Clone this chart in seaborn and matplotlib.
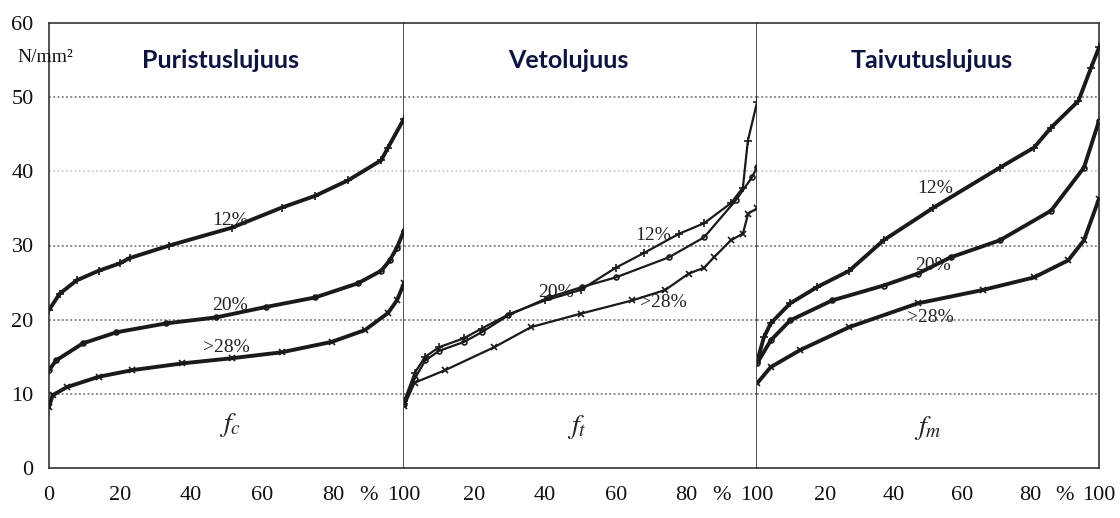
import matplotlib
matplotlib.use("Agg")
import matplotlib.pyplot as plt
import seaborn as sns
import numpy as np

# ---------------- data ----------------
panel_titles = ["Puristuslujuus", "Vetolujuus", "Taivutuslujuus"]
panel_symbols = ["$f_c$", "$f_t$", "$f_m$"]
series_names = ["12%", "20%", ">28%"]

# Panel 1: compressive strength
p1_12_x = [0, 3, 7.8, 14, 20, 22.7, 33.9, 51.5, 65.5, 75, 84.3, 93.6, 95.5, 100]
p1_12_y = [21.3, 23.5, 25.3, 26.6, 27.6, 28.3, 30.0, 32.4, 35.1, 36.7, 38.8, 41.5, 43.2, 47.1]
p1_20_x = [0, 2, 9.5, 19, 33, 47, 61, 75, 87, 93.6, 96, 98, 100]
p1_20_y = [13.2, 14.5, 16.8, 18.3, 19.5, 20.3, 21.7, 23.0, 24.9, 26.6, 28.0, 29.7, 32.0]
p1_28_x = [0, 1, 5, 14, 23.5, 37.5, 51.5, 65.5, 79.6, 89, 95.5, 98, 100]
p1_28_y = [8.2, 9.8, 10.9, 12.3, 13.2, 14.1, 14.8, 15.6, 17.0, 18.6, 20.9, 22.6, 24.9]

# Panel 2: tensile strength
p2_12_x = [0, 3, 6, 10, 17, 22, 30, 40, 50, 60, 68, 78, 85, 92.6, 96, 97.4, 100]
p2_12_y = [9.0, 12.8, 15.0, 16.3, 17.5, 18.8, 20.8, 22.6, 24.0, 27.0, 29.0, 31.6, 33.0, 35.7, 37.8, 44.1, 49.3]
p2_20_x = [0, 3, 6, 10, 17, 22, 29.6, 41, 50.4, 60, 75, 85, 94, 98.6, 100]
p2_20_y = [8.6, 12.0, 14.5, 15.8, 17.0, 18.3, 20.6, 23.0, 24.4, 25.7, 28.4, 31.1, 36.1, 39.2, 40.6]
p2_28_x = [0, 3, 11.7, 25.6, 36, 50, 64.7, 74, 80.6, 85, 87.8, 92.6, 96, 97.5, 100]
p2_28_y = [8.3, 11.5, 13.2, 16.3, 19.0, 20.8, 22.6, 24.0, 26.2, 27.0, 28.4, 30.7, 31.6, 34.3, 35.0]

# Panel 3: bending strength
p3_12_x = [0, 2, 4, 9.7, 17.6, 27, 37, 51.6, 71, 81, 86, 94, 97.7, 100]
p3_12_y = [14.3, 17.6, 19.5, 22.2, 24.4, 26.6, 30.7, 35.1, 40.5, 43.2, 45.9, 49.5, 54.0, 56.7]
p3_20_x = [0, 4, 9.7, 22, 37, 47, 56.6, 71, 86, 95.6, 100]
p3_20_y = [14.1, 17.2, 19.9, 22.6, 24.6, 26.2, 28.4, 30.7, 34.7, 40.5, 46.8]
p3_28_x = [0, 4, 12.6, 27, 47, 66, 81, 91, 95.6, 100]
p3_28_y = [11.4, 13.6, 15.9, 19.0, 22.2, 24.0, 25.7, 28.0, 30.7, 36.3]

panels = [
    [(p1_12_x, p1_12_y), (p1_20_x, p1_20_y), (p1_28_x, p1_28_y)],
    [(p2_12_x, p2_12_y), (p2_20_x, p2_20_y), (p2_28_x, p2_28_y)],
    [(p3_12_x, p3_12_y), (p3_20_x, p3_20_y), (p3_28_x, p3_28_y)],
]

# label anchor positions (x %, value)
label_pos = [
    [(51, 33.4), (51, 21.9), (50, 16.2)],
    [(70.5, 31.4), (43, 23.7), (73.4, 22.3)],
    [(52, 37.7), (51.5, 27.3), (50.6, 20.3)],
]
symbol_pos = [(51, 5.8), (49, 5.5), (50, 5.4)]

y_ticks = [0, 10, 20, 30, 40, 50, 60]
x_ticks = [0, 10, 20, 30, 40, 50, 60, 70, 80, 90, 100]
x_labels_first = ["0", "", "20", "", "40", "", "60", "", "80", "%", "100"]
x_labels_other = ["", "", "20", "", "40", "", "60", "", "80", "%", "100"]

# ---------------- style ----------------
sns.set_style("white")
plt.rcParams["font.family"] = ["Liberation Serif", "DejaVu Serif"]
plt.rcParams["mathtext.fontset"] = "stix"

W, H = 1120, 518
fig = plt.figure(figsize=(W / 100, H / 100), dpi=100)
x_edges = [49, 404, 757, 1099]
y_bot, y_top = 468, 23
axes = []
for i in range(3):
    ax = fig.add_axes([x_edges[i] / W, (H - y_bot) / H,
                       (x_edges[i + 1] - x_edges[i]) / W, (y_bot - y_top) / H])
    axes.append(ax)

markers = ["+", "o", "x"]
msizes = [6, 3.5, 4.5]
ink = "#1a1a1a"

for i, ax in enumerate(axes):
    # dotted grid lines
    for g in [10, 20, 30, 40, 50]:
        ax.axhline(g, color="#555555", lw=1.1, ls=(0, (1.2, 1.6)),
                   alpha=0.35 if g == 40 else 0.9, zorder=1)
    for j, (xs, ys) in enumerate(panels[i]):
        sns.lineplot(x=xs, y=ys, ax=ax, color=ink, lw=2.8 if i != 1 else 1.6,
                     marker=markers[j], markersize=msizes[j], markeredgewidth=1.2,
                     markerfacecolor="none", markeredgecolor=ink,
                     estimator=None, sort=False, zorder=3)
        lx, ly = label_pos[i][j]
        ax.text(lx, ly, series_names[j], ha="center", va="center",
                fontsize=14, color="#222222", zorder=4)
    sx, sy = symbol_pos[i]
    ax.text(sx, sy, panel_symbols[i], ha="center", va="center", fontsize=20, color="#222222")

    ax.set_xlim(0, 100)
    ax.set_ylim(0, 60)
    ax.set_xticks(x_ticks)
    ax.set_xticklabels(x_labels_first if i == 0 else x_labels_other)
    ax.tick_params(axis="x", direction="inout", length=8, width=1.0, color="#333333",
                   labelsize=16, pad=9, labelcolor="#111111")
    if i == 0:
        ax.set_yticks(y_ticks)
        ax.tick_params(axis="y", direction="inout", length=10, width=1.0, color="#333333",
                       labelsize=16, pad=6, labelcolor="#111111")
    else:
        ax.set_yticks([])
    for side in ["top", "bottom", "left", "right"]:
        ax.spines[side].set_visible(True)
        ax.spines[side].set_color("#333333")
        ax.spines[side].set_linewidth(1.2)
    if i > 0:
        ax.spines["left"].set_visible(False)
    ax.set_xlabel("")
    ax.set_ylabel("")

# titles (real text)
title_x = [220, 568, 932]
for i, ax in enumerate(axes):
    fig.text(title_x[i] / W, 1 - 60 / H, panel_titles[i], ha="center", va="center",
             fontsize=18, fontweight="bold", family=["Lato", "DejaVu Sans"], color="#0d1440")

fig.text(45 / W, 1 - 57 / H, "N/mm²", ha="center", va="center", fontsize=14, color="#111111")

fig.savefig("out.png", dpi=100)
